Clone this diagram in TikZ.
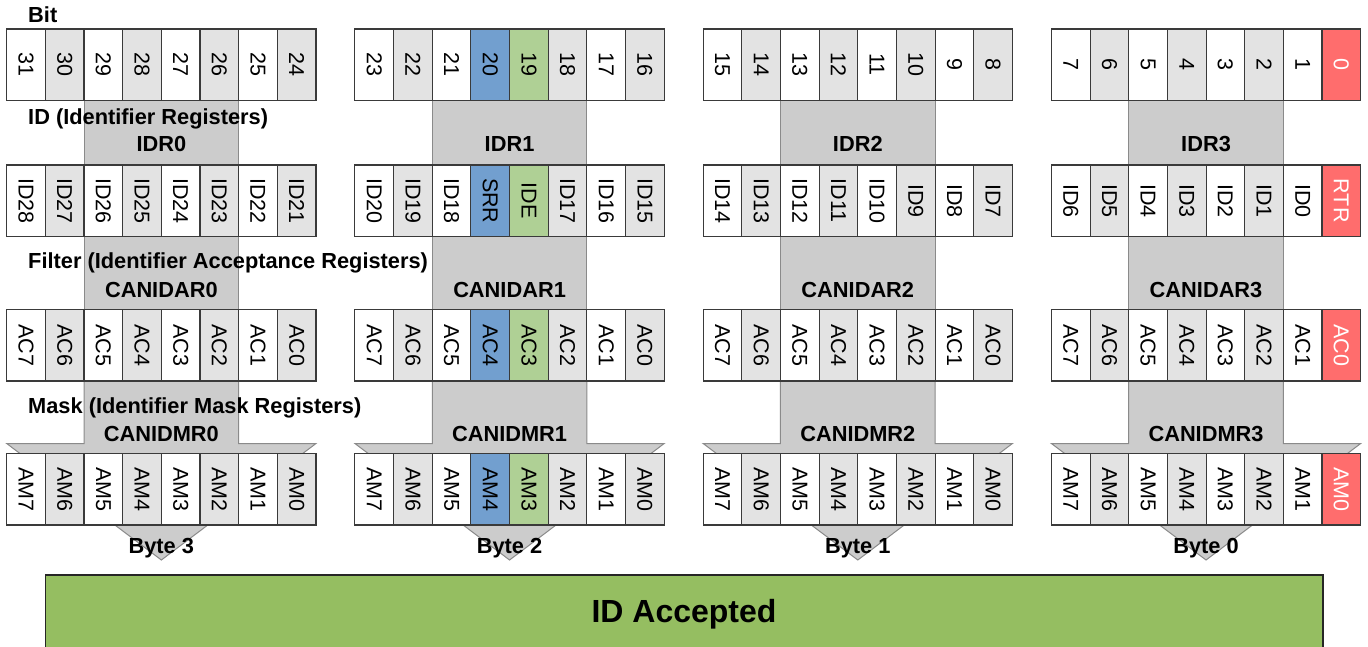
\documentclass[tikz,border=0pt]{standalone}
\usepackage{fontspec}
\usepackage{graphicx}
\setmainfont{Liberation Sans}
\usetikzlibrary{calc,backgrounds}
\definecolor{cellgray}{HTML}{E3E3E3}
\definecolor{blk}{HTML}{3A3A3A}
\definecolor{srrblue}{HTML}{729FCF}
\definecolor{idegreen}{HTML}{AFD095}
\definecolor{rtrred}{HTML}{FF6D6D}
\definecolor{conngray}{HTML}{CCCCCC}
\definecolor{connedge}{HTML}{8A8A8A}
\definecolor{accgreen}{HTML}{95BE61}
\tikzset{
  cell/.style={draw=blk, line width=1.1pt, minimum width=38.66pt, minimum height=71.5pt,
    inner sep=0pt, outer sep=0pt, anchor=north west, font=\fontsize{21.5}{21.5}\selectfont},
  lbl/.style={font=\bfseries\fontsize{21.8}{21.8}\selectfont, inner sep=0pt, text height=15.6pt, text depth=0pt},
  conn/.style={fill=conngray, draw=connedge, line width=1pt},
  accbox/.style={fill=accgreen, draw=black!85, line width=1.3pt, inner sep=0pt,
    font=\bfseries\fontsize{32}{32}\selectfont, text height=23pt, text depth=4pt}
}
% #1 group, #2 x origin, #3 row name, #4 top y, #5 list of texts
\newcommand\regrow[5]{%
  \foreach \t [count=\c from 0] in {#5} {
    \pgfmathsetmacro\cx{#2+\c*38.66}
    \def\cf{white}\def\tc{black}
    \ifodd\c \def\cf{cellgray}\fi
    \ifnum#1=1 \ifnum\c=3 \def\cf{srrblue}\fi \ifnum\c=4 \def\cf{idegreen}\fi\fi
    \ifnum#1=3 \ifnum\c=7 \def\cf{rtrred}\def\tc{white}\fi\fi
    \node[cell, fill=\cf, text=\tc] (g#1#3c\c) at (\cx,#4) {\rotatebox{-90}{\t}};
  }%
}
\begin{document}
\begin{tikzpicture}[x=1pt,y=-1pt]
\useasboundingbox (0,0) rectangle (1368,646);
% group 0 (byte 3)
\regrow{0}{6.7}{bit}{29}{31,30,29,28,27,26,25,24}
\regrow{0}{6.7}{id}{165}{ID28,ID27,ID26,ID25,ID24,ID23,ID22,ID21}
\regrow{0}{6.7}{ac}{309.5}{AC7,AC6,AC5,AC4,AC3,AC2,AC1,AC0}
\regrow{0}{6.7}{am}{453.5}{AM7,AM6,AM5,AM4,AM3,AM2,AM1,AM0}
% group 1 (byte 2)
\regrow{1}{354.93}{bit}{29}{23,22,21,20,19,18,17,16}
\regrow{1}{354.93}{id}{165}{ID20,ID19,ID18,SRR,IDE,ID17,ID16,ID15}
\regrow{1}{354.93}{ac}{309.5}{AC7,AC6,AC5,AC4,AC3,AC2,AC1,AC0}
\regrow{1}{354.93}{am}{453.5}{AM7,AM6,AM5,AM4,AM3,AM2,AM1,AM0}
% group 2 (byte 1)
\regrow{2}{703.16}{bit}{29}{15,14,13,12,11,10,9,8}
\regrow{2}{703.16}{id}{165}{ID14,ID13,ID12,ID11,ID10,ID9,ID8,ID7}
\regrow{2}{703.16}{ac}{309.5}{AC7,AC6,AC5,AC4,AC3,AC2,AC1,AC0}
\regrow{2}{703.16}{am}{453.5}{AM7,AM6,AM5,AM4,AM3,AM2,AM1,AM0}
% group 3 (byte 0)
\regrow{3}{1051.4}{bit}{29}{7,6,5,4,3,2,1,0}
\regrow{3}{1051.4}{id}{165}{ID6,ID5,ID4,ID3,ID2,ID1,ID0,RTR}
\regrow{3}{1051.4}{ac}{309.5}{AC7,AC6,AC5,AC4,AC3,AC2,AC1,AC0}
\regrow{3}{1051.4}{am}{453.5}{AM7,AM6,AM5,AM4,AM3,AM2,AM1,AM0}
% connectors and arrows
\begin{scope}[on background layer]
\foreach \g in {0,1,2,3} {
  \draw[conn] (g\g bitc2.south west) rectangle (g\g idc5.north east);
  \draw[conn] (g\g idc2.south west) rectangle (g\g acc5.north east);
  \draw[conn] (g\g acc2.south west)
     -- ($(g\g amc2.north west)+(0,-10)$)
     -- ($(g\g amc0.north west)+(0,-10)$)
     -- ($(g\g amc3.south east)+(0,35)$)
     -- ($(g\g amc7.north east)+(0,-10)$)
     -- ($(g\g amc5.north east)+(0,-10)$)
     -- (g\g acc5.south east) -- cycle;
}
\end{scope}
% section labels
\node[lbl, anchor=west] (lbit) at (28,15) {Bit};
\node[lbl, anchor=west] (lid) at (28,117) {ID (Identifier Registers)};
\node[lbl, anchor=west] (lfilter) at (28,261) {Filter (Identifier Acceptance Registers)};
\node[lbl, anchor=west] (lmask) at (28,406) {Mask (Identifier Mask Registers)};
% register names
\foreach \g/\n in {0/0,1/1,2/2,3/3} {
  \node[lbl] (idr\g) at ($(g\g idc3.north east)+(0,-21)$) {IDR\n};
  \node[lbl] (canidar\g) at ($(g\g acc3.north east)+(0,-20)$) {CANIDAR\n};
  \node[lbl] (canidmr\g) at ($(g\g amc3.north east)+(0,-20)$) {CANIDMR\n};
}
\foreach \g/\b in {0/3,1/2,2/1,3/0} {
  \node[lbl] (byte\g) at ($(g\g amc3.south east)+(0,21)$) {Byte \b};
}
% accepted box
\node[accbox, minimum width=1277.7pt, minimum height=75pt] (acc) at (684,612.5) {ID Accepted};
\end{tikzpicture}
\end{document}
